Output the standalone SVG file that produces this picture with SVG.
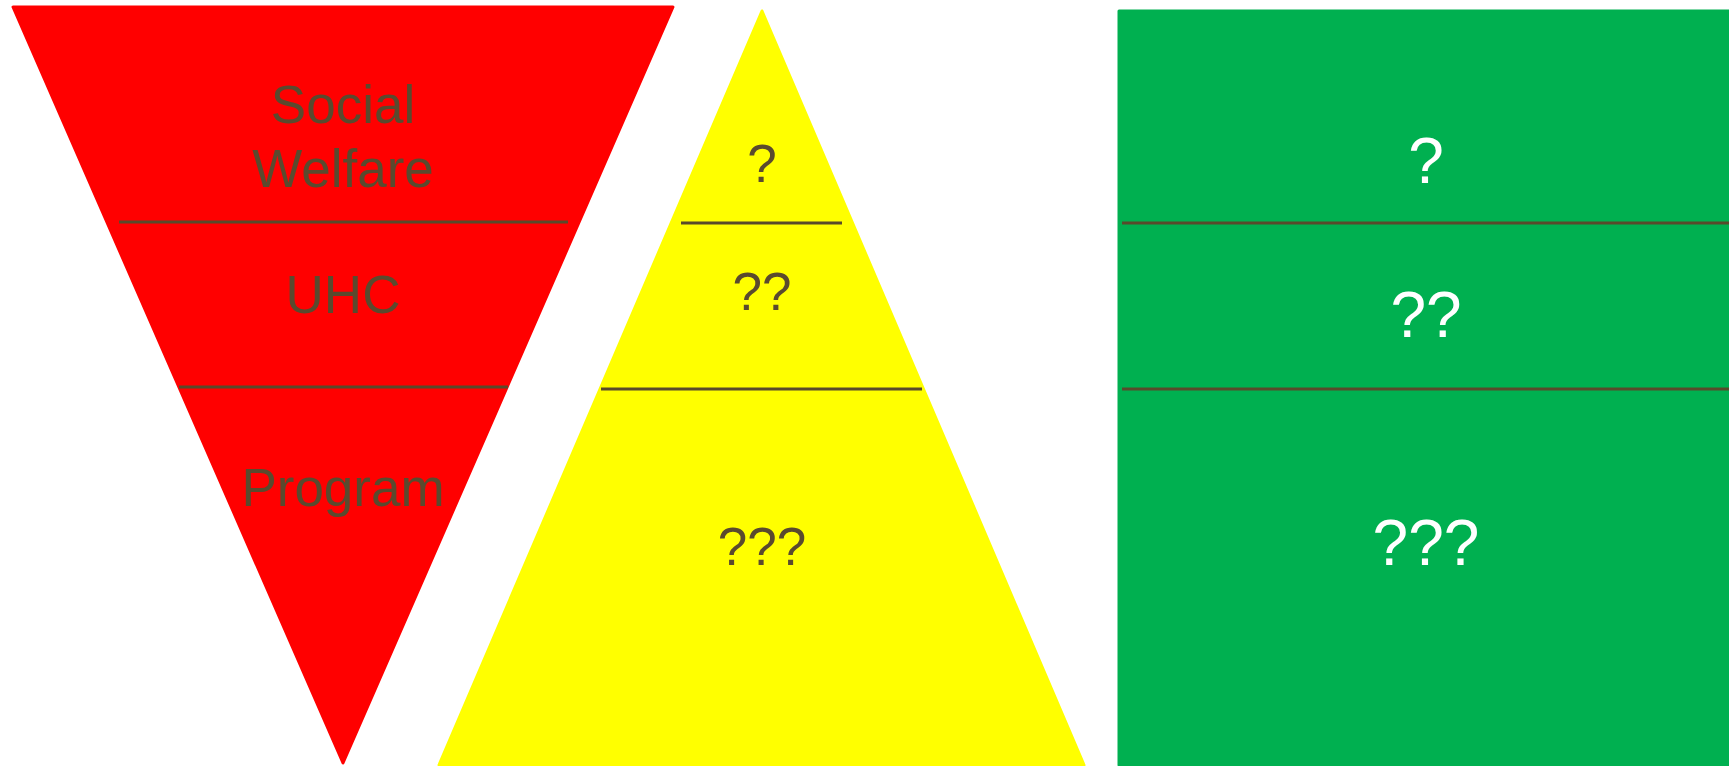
<svg xmlns="http://www.w3.org/2000/svg" width="1729" height="766" viewBox="0 0 1729 766">
<style>
.shape{stroke-linejoin:round;stroke-width:3}
.div{stroke:#594A2B;stroke-width:3;fill:none}
.lbl{font-family:"Liberation Sans",Arial,sans-serif;font-size:53px;fill:#5A4A2E;text-anchor:middle}
.wlbl{font-family:"Liberation Sans",Arial,sans-serif;font-size:64px;fill:#FFFFFF;text-anchor:middle}
</style>
<rect width="1729" height="766" fill="#FFFFFF"/>
<g id="red">
<polygon class="shape" points="13,7 673,7 343,763" fill="#FF0000" stroke="#FF0000"/>
<text class="lbl" x="343" y="123">Social</text>
<text class="lbl" x="343" y="187">Welfare</text>
<text class="lbl" x="343" y="313">UHC</text>
<text class="lbl" x="343" y="506">Program</text>
</g>
<g id="yellow">
<polygon class="shape" points="762,11 1084,765 439,765" fill="#FFFF00" stroke="#FFFF00"/>
<text class="lbl" x="762" y="182">?</text>
<text class="lbl" x="762" y="310">??</text>
<text class="lbl" x="762" y="565">???</text>
</g>
<g id="green">
<rect class="shape" x="1119" y="11" width="620" height="754" fill="#00B050" stroke="#00B050"/>
<text class="wlbl" x="1426" y="183">?</text>
<text class="wlbl" x="1426" y="337">??</text>
<text class="wlbl" x="1426" y="565">???</text>
</g>
<g id="connectors">
<line class="div" x1="119" y1="222" x2="568" y2="222"/>
<line class="div" x1="179" y1="387" x2="508" y2="387"/>
<line class="div" x1="681" y1="223" x2="842" y2="223"/>
<line class="div" x1="601" y1="389" x2="922" y2="389"/>
<line class="div" x1="1122" y1="223" x2="1729" y2="223" stroke="#4E3B2A"/>
<line class="div" x1="1122" y1="389" x2="1729" y2="389"/>
</g>
</svg>
